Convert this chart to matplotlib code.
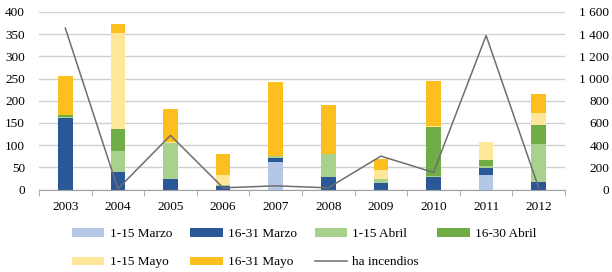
import numpy as np
import matplotlib.pyplot as plt
from matplotlib.patches import Patch
from matplotlib.lines import Line2D
from matplotlib.ticker import FixedLocator, FuncFormatter

years = ["2003", "2004", "2005", "2006", "2007", "2008", "2009", "2010", "2011", "2012"]

marzo_1 = [0, 0, 0, 0, 63, 0, 0, 0, 32, 0]
marzo_2 = [161, 39, 24, 7, 8, 29, 14, 28, 17, 16]
abril_1 = [3, 48, 81, 4, 4, 50, 9, 2, 4, 87]
abril_2 = [5, 49, 0, 0, 0, 2, 0, 110, 13, 42]
mayo_1 = [0, 216, 2, 21, 0, 0, 20, 2, 42, 28]
mayo_2 = [87, 21, 74, 49, 167, 110, 26, 103, 0, 42]
ha_incendios = [1455, 6, 488, 15, 33, 15, 301, 154, 1388, 15]

series = [
    ("1-15 Marzo", marzo_1, "#B4C7E7"),
    ("16-31 Marzo", marzo_2, "#2B5797"),
    ("1-15 Abril", abril_1, "#A9D18E"),
    ("16-30 Abril", abril_2, "#70AD47"),
    ("1-15 Mayo", mayo_1, "#FFE699"),
    ("16-31 Mayo", mayo_2, "#FCBF1E"),
]

plt.rcParams["font.family"] = ["Liberation Serif", "DejaVu Serif"]
plt.rcParams["font.size"] = 9.5

W, H = 612, 272
fig = plt.figure(figsize=(W / 100, H / 100), dpi=100)
ax = fig.add_axes([39 / W, (H - 189.5) / H, 526 / W, 177.5 / H])

x = np.arange(len(years))
bottom = np.zeros(len(years))
handles = []
for label, vals, color in series:
    vals = np.array(vals, dtype=float)
    ax.bar(x, vals, 0.28, bottom=bottom, color=color, zorder=2)
    bottom += vals
    handles.append(Patch(facecolor=color, label=label))

ax.set_xlim(-0.5, len(years) - 0.5)
ax.set_ylim(0, 400)
ax.set_yticks(np.arange(0, 401, 50))
ax.grid(axis="y", color="#D0D0D0", linewidth=1, zorder=0)
ax.set_xticks(x)
ax.set_xticklabels(years)
ax.tick_params(axis="x", which="major", length=0, pad=8)
ax.xaxis.set_minor_locator(FixedLocator(np.arange(-0.5, len(years), 1)))
ax.tick_params(axis="x", which="minor", length=4, color="#A0A0A0")
ax.tick_params(axis="y", length=0, pad=10)
for s in ["top", "left", "right"]:
    ax.spines[s].set_visible(False)
ax.spines["bottom"].set_color("#A0A0A0")

ax2 = ax.twinx()
ax2.plot(x, ha_incendios, color="#6E6E6E", linewidth=1.1, zorder=3)
ax2.set_ylim(0, 1600)
ax2.set_yticks(np.arange(0, 1601, 200))
ax2.yaxis.set_major_formatter(FuncFormatter(lambda v, p: f"{int(v):,}".replace(",", " ")))
ax2.tick_params(axis="y", length=0, pad=32)
for lbl in ax2.get_yticklabels():
    lbl.set_horizontalalignment("right")
for s in ["top", "left", "right", "bottom"]:
    ax2.spines[s].set_visible(False)

handles.append(Line2D([], [], color="#6E6E6E", linewidth=1.1, label="ha incendios"))
order = [0, 4, 1, 5, 2, 6, 3]
leg = fig.legend([handles[i] for i in order], [handles[i].get_label() for i in order],
                 loc="upper left", bbox_to_anchor=(71.5 / W, 1 - 228 / H), ncol=4,
                 frameon=False, handlelength=2.5, handleheight=0.6, handletextpad=0.38,
                 columnspacing=1.35, labelspacing=1.25, borderpad=0, borderaxespad=0)

fig.savefig("out.png", dpi=100)
